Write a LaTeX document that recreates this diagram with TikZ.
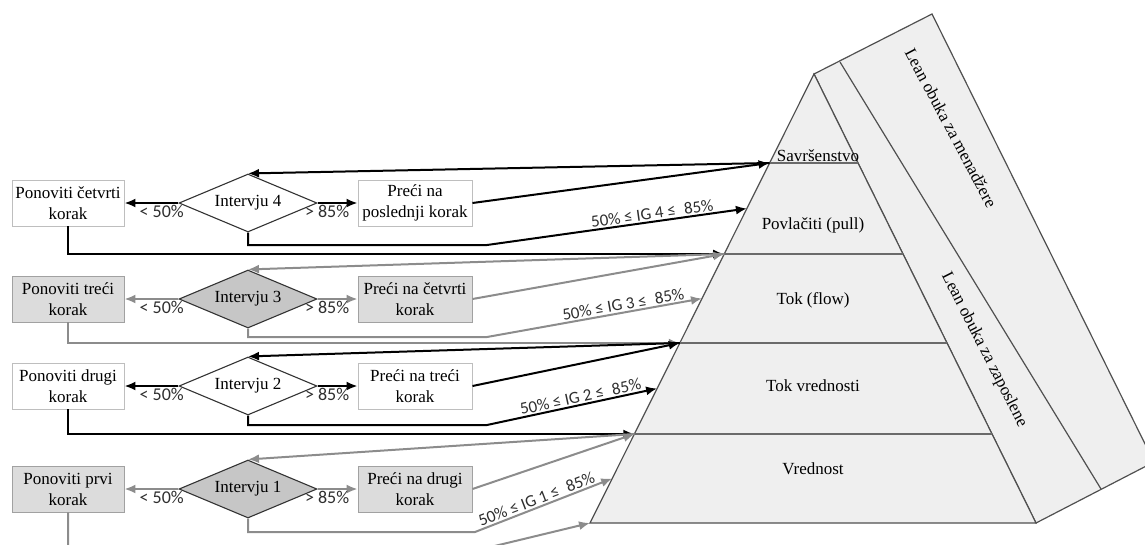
\documentclass[tikz,border=0pt]{standalone}
\usepackage{fontspec}
\setmainfont{Liberation Serif}
\newfontfamily\lblfont{Carlito}
\usetikzlibrary{shapes.geometric,arrows.meta,calc}

\definecolor{edgegray}{HTML}{505050}
\definecolor{levelgray}{HTML}{6A6A6A}
\definecolor{facegray}{HTML}{EFEFEF}
\definecolor{boxgray}{HTML}{DCDCDC}
\definecolor{diagray}{HTML}{C6C6C6}
\definecolor{linegray}{HTML}{8C8C8C}
\definecolor{boxedge}{HTML}{BEBEBE}
\definecolor{lbltext}{HTML}{2E2E2E}

\begin{document}
\begin{tikzpicture}[x=1pt,y=-1pt,
  font=\fontsize{17}{21}\selectfont,
  stepbox/.style={draw=boxedge, line width=0.9pt, fill=white, minimum width=112pt,
    minimum height=46pt, inner sep=1pt, align=center},
  greybox/.style={stepbox, fill=boxgray, draw=boxedge!85!black},
  talk/.style={diamond, aspect=2.38, draw=black!80, line width=1.1pt, fill=white,
    minimum width=138pt, minimum height=58pt, inner sep=0pt},
  greytalk/.style={talk, fill=diagray},
  edge/.style={draw=edgegray, line width=1.2pt, line join=miter},
  blk/.style={draw=black, line width=2pt, -{Latex[length=11pt,width=9pt]}},
  gry/.style={draw=linegray, line width=2pt, -{Latex[length=11pt,width=9pt]}},
  pct/.style={font=\lblfont\fontsize{18}{20}\selectfont, text=lbltext, inner sep=1pt},
  band/.style={font=\lblfont\fontsize{17}{20}\selectfont, text=lbltext,
    inner sep=1.5pt, sloped, above},
]
\useasboundingbox (0,0) rectangle (1145,544);
\clip (0,0) rectangle (1145,544);

% ---------- pyramid ----------
\coordinate (A)  at (814,74);
\coordinate (BL) at (590,523);
\coordinate (BR) at (1036,523);
\coordinate (T2) at (840,62);
\coordinate (T3) at (932,14);
\coordinate (C)  at (1154,462);
\coordinate (M)  at (1101,489);

% side face with the two training bands
\draw[edge, fill=facegray] (A) -- (T3) -- (C) -- (BR) -- cycle;
\draw[edge] (T2) -- (M);
% front face
\draw[edge, fill=facegray] (A) -- (BL) -- (BR) -- cycle;

% level boundaries (left and right ends)
\coordinate (L4) at ($(A)!0.1982!(BL)$); \coordinate (R4) at ($(A)!0.1982!(BR)$);
\coordinate (L3) at ($(A)!0.4009!(BL)$); \coordinate (R3) at ($(A)!0.4009!(BR)$);
\coordinate (L2) at ($(A)!0.5991!(BL)$); \coordinate (R2) at ($(A)!0.5991!(BR)$);
\coordinate (L1) at ($(A)!0.8018!(BL)$); \coordinate (R1) at ($(A)!0.8018!(BR)$);
% middle of each level on the left edge
\coordinate (H4) at ($(A)!0.2996!(BL)$);
\coordinate (H3) at ($(A)!0.5000!(BL)$);
\coordinate (H2) at ($(A)!0.7004!(BL)$);
\coordinate (H1) at ($(A)!0.9009!(BL)$);

\draw[draw=levelgray, line width=1.1pt] (L4) -- (R4);
\draw[draw=levelgray, line width=1.1pt] (L3) -- (R3);
\draw[draw=levelgray, line width=1.1pt] (L2) -- (R2);
\draw[draw=levelgray, line width=1.1pt] (L1) -- (R1);

\node[anchor=south, inner sep=1pt] (lv5) at (818,163) {Savršenstvo};
\node (lv4) at (813,225) {Povlačiti (pull)};
\node (lv3) at (813,300) {Tok (flow)};
\node (lv2) at (813,386) {Tok vrednosti};
\node (lv1) at (813,469) {Vrednost};

\node[rotate=-62] (mgr) at (951,128) {Lean obuka za menadžere};
\node[rotate=-63] (emp) at (984,350) {Lean obuka za zaposlene};

% ---------- flow chart ----------
\node[stepbox] (p4) at (68,203) {Ponoviti četvrti\\korak};
\node[talk]    (d4) at (248,203) {Intervju 4};
\node[stepbox, minimum width=114pt] (q4) at (415,203) {Preći na\\poslednji korak};

\node[greybox]  (p3) at (68,299) {Ponoviti treći\\korak};
\node[greytalk] (d3) at (248,299) {Intervju 3};
\node[greybox, minimum width=114pt] (q3) at (415,299) {Preći na četvrti\\korak};

\node[stepbox] (p2) at (68,386) {Ponoviti drugi\\korak};
\node[talk]    (d2) at (248,386) {Intervju 2};
\node[stepbox, minimum width=114pt] (q2) at (415,386) {Preći na treći\\korak};

\node[greybox]  (p1) at (68,489) {Ponoviti prvi\\korak};
\node[greytalk] (d1) at (248,489) {Intervju 1};
\node[greybox, minimum width=114pt] (q1) at (415,489) {Preći na drugi\\korak};

% row 4
\draw[blk] (d4.west) -- node[pct, below, pos=.31] {< 50\%} (p4.east);
\draw[blk] (d4.east) -- node[pct, below, pos=.24] {> 85\%} (q4.west);
\draw[blk] (L4) -- (d4.north);
\draw[blk] (q4.east) -- (L4);
\draw[blk] (d4.south) |- (487,245) -- node[band, pos=.64] {50\% ≤ IG 4 ≤\hspace{0.5em}85\%} (H4);
\draw[blk] (p4.south) |- (L3);

% row 3
\draw[gry] (d3.west) -- node[pct, below, pos=.31] {< 50\%} (p3.east);
\draw[gry] (d3.east) -- node[pct, below, pos=.24] {> 85\%} (q3.west);
\draw[gry] (L3) -- (d3.north);
\draw[gry] (q3.east) -- (L3);
\draw[gry] (d3.south) |- (487,337) -- node[band, pos=.64] {50\% ≤ IG 3 ≤\hspace{0.5em}85\%} (H3);
\draw[gry] (p3.south) |- (L2);

% row 2
\draw[blk] (d2.west) -- node[pct, below, pos=.31] {< 50\%} (p2.east);
\draw[blk] (d2.east) -- node[pct, below, pos=.24] {> 85\%} (q2.west);
\draw[blk] (L2) -- (d2.north);
\draw[blk] (q2.east) -- (L2);
\draw[blk] (d2.south) |- (487,425) -- node[band, pos=.56] {50\% ≤ IG 2 ≤\hspace{0.5em}85\%} (H2);
\draw[blk] (p2.south) |- (L1);

% row 1
\draw[gry] (d1.west) -- node[pct, below, pos=.31] {< 50\%} (p1.east);
\draw[gry] (d1.east) -- node[pct, below, pos=.24] {> 85\%} (q1.west);
\draw[gry] (L1) -- (d1.north);
\draw[gry] (q1.east) -- (L1);
\draw[gry] (d1.south) |- (475,532) -- node[band, pos=.47] {50\% ≤ IG 1 ≤\hspace{0.5em}85\%} (H1);
\draw[gry] (p1.south) -- (68,550) -- (478,550) -- (BL);
\end{tikzpicture}
\end{document}
